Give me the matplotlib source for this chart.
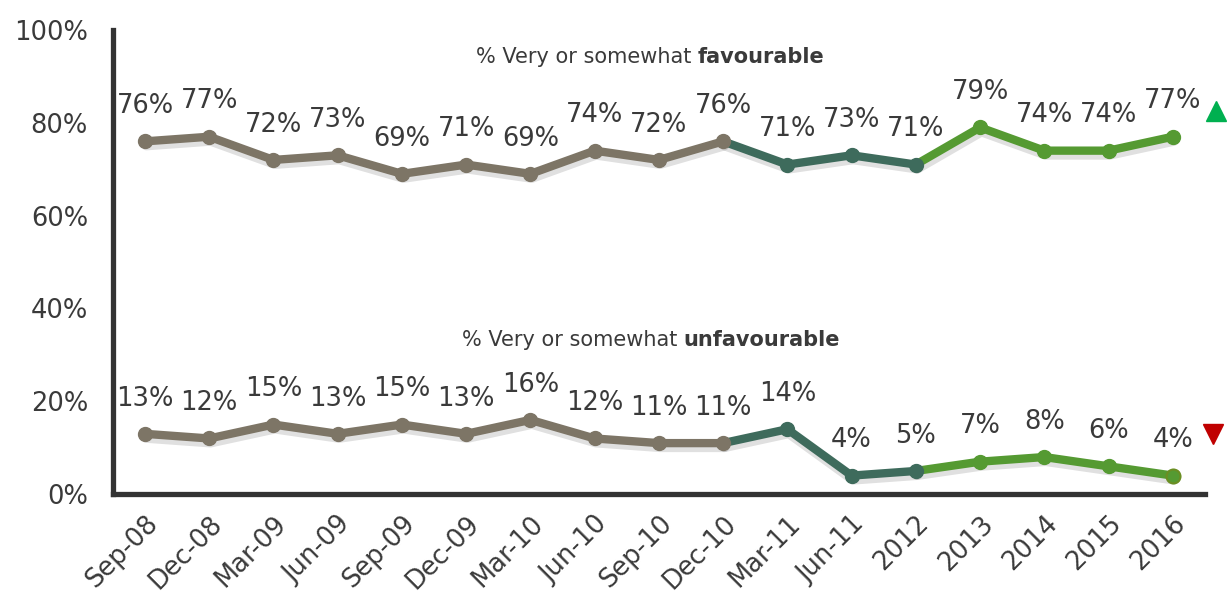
import matplotlib.pyplot as plt
import matplotlib.patheffects as pe
import numpy as np

periods = ['Sep-08', 'Dec-08', 'Mar-09', 'Jun-09', 'Sep-09', 'Dec-09', 'Mar-10',
           'Jun-10', 'Sep-10', 'Dec-10', 'Mar-11', 'Jun-11', '2012', '2013',
           '2014', '2015', '2016']
favourable = [76, 77, 72, 73, 69, 71, 69, 74, 72, 76, 71, 73, 71, 79, 74, 74, 77]
unfavourable = [13, 12, 15, 13, 15, 13, 16, 12, 11, 11, 14, 4, 5, 7, 8, 6, 4]

# colour segments: (start index, end index, colour)
segments = [(0, 9, '#7d7566'), (9, 12, '#3e6b5c'), (12, 16, '#559a32')]

fig, ax = plt.subplots(figsize=(12.27, 5.99), dpi=100)
fig.subplots_adjust(left=0.092, right=0.982, bottom=0.175, top=0.95)

x = np.arange(len(periods))
shadow = [pe.SimpleLineShadow(offset=(1, -3), alpha=0.12, shadow_color='k', linewidth=7),
          pe.Normal()]

for series in (favourable, unfavourable):
    for a, b, c in segments:
        xs = x[a:b + 1]
        ys = series[a:b + 1]
        ax.plot(xs, ys, '-', color=c, lw=6, solid_capstyle='round', zorder=2,
                path_effects=shadow)
        ax.plot(xs[1:] if a > 0 else xs, ys[1:] if a > 0 else ys, 'o', color=c,
                ms=10, zorder=3)
    for xi, v in zip(x, series):
        ax.annotate(f'{v}%', (xi, v), xytext=(0, 16), textcoords='offset points',
                    ha='center', va='bottom', fontsize=18.5, color='#3a3a3a')

# last marker with olive edge
ax.plot(x[-1], unfavourable[-1], 'o', color='#559a32', mec='#6b8e23', mew=1.5, ms=10, zorder=4)

# trend arrows
ax.plot(16.68, 82.5, '^', color='#00b050', ms=15, clip_on=False)
ax.plot(16.62, 13.0, 'v', color='#c00000', ms=15, clip_on=False)

# series captions
t1 = ax.text(5.15, 94.2, '% Very or somewhat ', ha='left', va='center',
             fontsize=15, color='#3a3a3a')
ax.annotate('favourable', xy=(1, 0), xycoords=t1, va='bottom', ha='left',
            fontsize=15, color='#3a3a3a', weight='bold')
t2 = ax.text(4.93, 33.2, '% Very or somewhat ', ha='left', va='center',
             fontsize=15, color='#3a3a3a')
ax.annotate('unfavourable', xy=(1, 0), xycoords=t2, va='bottom', ha='left',
            fontsize=15, color='#3a3a3a', weight='bold')

ax.set_xlim(-0.5, 16.5)
ax.set_ylim(0, 100)
ax.set_yticks(range(0, 101, 20))
ax.set_yticklabels([f'{v}%' for v in range(0, 101, 20)])
ax.set_xticks(x)
ax.set_xticklabels(periods, rotation=45, ha='right', rotation_mode='anchor')
ax.tick_params(length=0, labelsize=18.5, labelcolor='#3a3a3a')
ax.tick_params(axis='y', pad=18)
ax.tick_params(axis='x', pad=12)
for s in ('top', 'right'):
    ax.spines[s].set_visible(False)
for s in ('left', 'bottom'):
    ax.spines[s].set_linewidth(3.8)
    ax.spines[s].set_color('#333333')

plt.savefig('out.png', dpi=100)
